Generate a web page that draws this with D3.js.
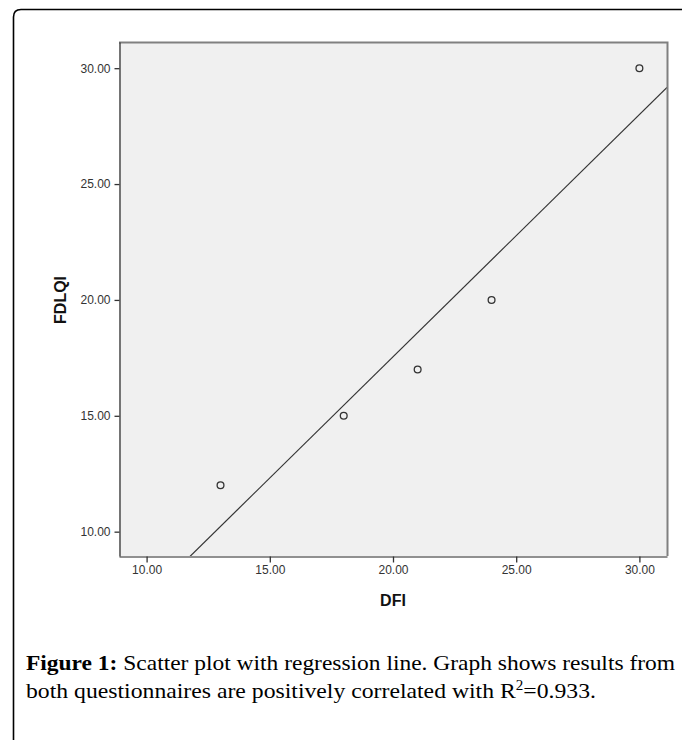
<!DOCTYPE html>
<html>
<head>
<meta charset="utf-8">
<script src="https://d3js.org/d3.v7.min.js"></script>
<style>
  body { margin: 0; background: #fff; }
  text { font-family: "Liberation Sans", Arial, sans-serif; }
</style>
</head>
<body>
<div id="chart"></div>
<script>
// data
var dfi   = [13, 18, 21, 24, 30];
var fdlqi = [12, 15, 17, 20, 30];
var xTicks = [10, 15, 20, 25, 30];
var yTicks = [10, 15, 20, 25, 30];
var xLabel = "DFI";
var yLabel = "FDLQI";
var captionBold = "Figure 1:";
var captionLine1 = " Scatter plot with regression line. Graph shows results from";
var captionLine2 = "both questionnaires are positively correlated with R";
var captionEnd = "=0.933.";

var W = 682, H = 740;
var plot = {left: 119, top: 42, right: 667, bottom: 556};

var svg = d3.select("#chart").append("svg")
    .attr("width", W)
    .attr("height", H);

// outer frame (rounded top-left corner)
svg.append("path")
    .attr("d", "M13.5,740 L13.5,17 Q13.5,9.5 21,9.5 L690,9.5")
    .attr("fill", "none")
    .attr("stroke", "#000")
    .attr("stroke-width", 1.6);

var x = d3.scaleLinear().domain([8.88, 31.12]).range([plot.left, plot.right]);
var y = d3.scaleLinear().domain([8.95, 31.13]).range([plot.bottom, plot.top]);

// plot background
svg.append("rect")
    .attr("x", plot.left).attr("y", plot.top)
    .attr("width", plot.right - plot.left)
    .attr("height", plot.bottom - plot.top)
    .attr("fill", "#f0f0f0");

svg.append("clipPath").attr("id", "clip")
  .append("rect")
    .attr("x", plot.left).attr("y", plot.top)
    .attr("width", plot.right - plot.left)
    .attr("height", plot.bottom - plot.top);

// regression line (least squares from the data)
var mx = d3.mean(dfi), my = d3.mean(fdlqi);
var sxy = d3.sum(dfi, function(d, i) { return (d - mx) * (fdlqi[i] - my); });
var sxx = d3.sum(dfi, function(d) { return (d - mx) * (d - mx); });
var slope = sxy / sxx, icpt = my - slope * mx;
var xd = x.domain();
svg.append("line")
    .attr("clip-path", "url(#clip)")
    .attr("x1", x(xd[0])).attr("y1", y(slope * xd[0] + icpt))
    .attr("x2", x(xd[1])).attr("y2", y(slope * xd[1] + icpt))
    .attr("stroke", "#333")
    .attr("stroke-width", 1.2);

// points
svg.selectAll("circle.pt")
  .data(dfi)
  .enter().append("circle")
    .attr("class", "pt")
    .attr("cx", function(d) { return x(d); })
    .attr("cy", function(d, i) { return y(fdlqi[i]); })
    .attr("r", 3.4)
    .attr("fill", "none")
    .attr("stroke", "#333")
    .attr("stroke-width", 1.3);

// top / right frame of plot
svg.append("path")
    .attr("d", "M" + plot.left + "," + (plot.top + 0.5) + " H" + (plot.right + 0.5) + " V" + plot.bottom)
    .attr("fill", "none")
    .attr("stroke", "#808080")
    .attr("stroke-width", 2);

// axes
var fmt = d3.format(".2f");
var xAxis = svg.append("g")
    .attr("transform", "translate(0," + (plot.bottom + 0.5) + ")")
    .call(d3.axisBottom(x).tickValues(xTicks).tickFormat(fmt).tickSizeInner(6).tickSizeOuter(0).tickPadding(3));
var yAxis = svg.append("g")
    .attr("transform", "translate(" + (plot.left + 0.5) + ",0)")
    .call(d3.axisLeft(y).tickValues(yTicks).tickFormat(fmt).tickSizeInner(5).tickSizeOuter(0).tickPadding(4));

[xAxis, yAxis].forEach(function(g) {
  g.select(".domain").attr("stroke", "#222").attr("stroke-width", 1.2);
  g.selectAll(".tick line").attr("stroke", "#333").attr("stroke-width", 1.3);
  g.selectAll(".tick text")
    .attr("fill", "#333")
    .style("font-family", "'Liberation Sans', Arial, sans-serif")
    .style("font-size", "12px");
});

// axis titles
svg.append("text")
    .attr("x", x(20)).attr("y", 606)
    .attr("text-anchor", "middle")
    .style("font-size", "16px").style("font-weight", "bold")
    .attr("fill", "#111")
    .text(xLabel);

svg.append("text")
    .attr("transform", "translate(66," + y(20) + ") rotate(-90)")
    .attr("text-anchor", "middle")
    .style("font-size", "16px").style("font-weight", "bold")
    .attr("fill", "#111")
    .text(yLabel);

// caption
var t1 = svg.append("text")
    .attr("x", 26).attr("y", 670)
    .style("font-family", "'Liberation Serif', serif")
    .style("font-size", "22px").attr("fill", "#000")
    .attr("textLength", 649).attr("lengthAdjust", "spacingAndGlyphs");
t1.append("tspan").style("font-weight", "bold").text(captionBold);
t1.append("tspan").text(captionLine1);

var t2 = svg.append("text")
    .attr("x", 26).attr("y", 698)
    .style("font-family", "'Liberation Serif', serif")
    .style("font-size", "22px").attr("fill", "#000")
    .attr("textLength", 570).attr("lengthAdjust", "spacingAndGlyphs");
t2.append("tspan").text(captionLine2);
t2.append("tspan").attr("dy", -8).style("font-size", "14px").text("2");
t2.append("tspan").attr("dy", 8).text(captionEnd);
</script>
</body>
</html>
